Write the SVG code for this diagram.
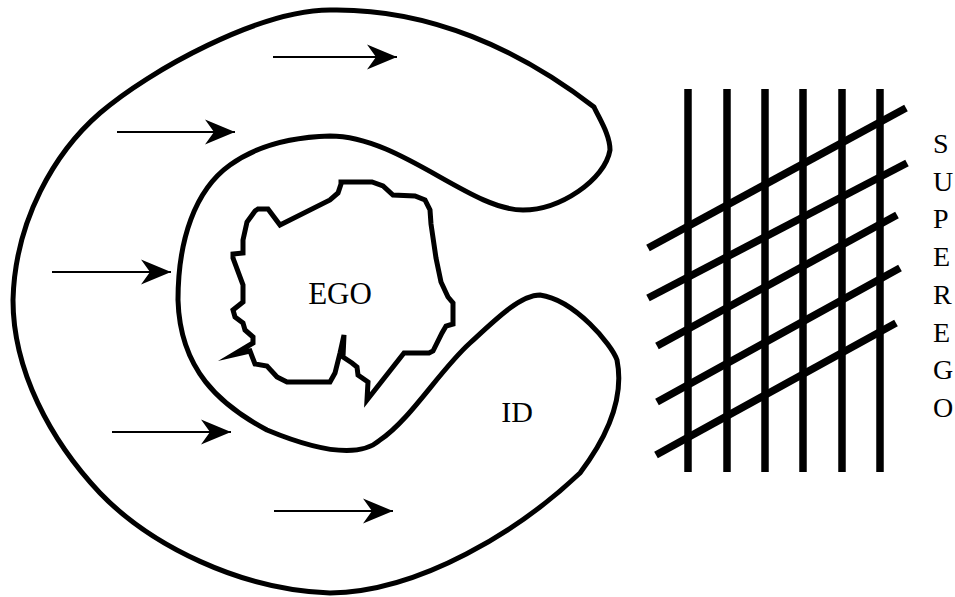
<svg xmlns="http://www.w3.org/2000/svg" width="955" height="597" viewBox="0 0 955 597">
<style>
.bold{fill:none;stroke:#000;stroke-width:5;stroke-linejoin:miter;stroke-miterlimit:10}
.grid{stroke:#000;stroke-width:7.5;fill:none}
.arrow{stroke:#000;stroke-width:2;fill:none}
.lbl{font-family:"Liberation Serif","Times New Roman",serif;fill:#000}
</style>
<defs>
<marker id="ah" markerUnits="userSpaceOnUse" viewBox="-31 -13 32 26" markerWidth="32" markerHeight="26" refX="0" refY="0" orient="auto">
<path d="M0,0 L-30,-12.5 L-21,0 L-30,12.5 Z" fill="#000"/>
</marker>
</defs>
<rect width="955" height="597" fill="#fff"/>
<g id="id-region">
<path class="bold" d="M594,107 C520,50 430,8 330,10 C260,10 150,70 100,113 C55,152 15,220 13,300 C13,370 50,440 100,493 C150,545 240,590 330,593 C420,592 520,530 580,473 C605,440 625,400 617,360 C612,345 575,300 540,295 C520,295 495,320 470,343 C440,370 410,420 380,440 C360,458 320,452 267,430 C220,405 180,370 178,300 C178,240 195,190 230,165 C255,147 290,137 330,136 C400,136 470,210 523,210 C560,210 605,180 610,150 C610,135 600,120 594,107 Z"/>
<text class="lbl" x="517" y="422" font-size="30" text-anchor="middle">ID</text>
</g>
<g id="ego">
<path class="bold" d="M280,225 L330,200 L338,193 L341,184 L341,182 L372,182 L383,186 L393,195 L415,196 L425,200 L430,210 L431,224 L436,258 L441,282 L448,297 L453,303 L453,324 L446,326 L442,333 L433,351 L429,353 L404,353 L367,400 L368,382 L358,375 L357,367 L352,363 L343,357 L344,335 L340,353 L335,373 L330,382 L287,382 L277,377 L267,366 L255,364 L250,351 L233,355 L253,343 L253,337 L245,330 L243,323 L235,317 L233,310 L243,302 L243,285 L233,258 L233,254 L243,253 L243,240 L247,222 L255,211 L258,209 L268,209 Z"/>
<text class="lbl" x="340" y="304" font-size="31" text-anchor="middle">EGO</text>
</g>
<g id="superego">
<g class="grid">
<line x1="688" y1="89" x2="688" y2="472"/>
<line x1="727" y1="89" x2="727" y2="472"/>
<line x1="765" y1="89" x2="765" y2="472"/>
<line x1="803" y1="89" x2="803" y2="472"/>
<line x1="842" y1="89" x2="842" y2="472"/>
<line x1="880" y1="89" x2="880" y2="472"/>
<line x1="648" y1="248" x2="906" y2="108"/>
<line x1="648" y1="298" x2="907" y2="163"/>
<line x1="657" y1="346" x2="897" y2="215"/>
<line x1="657" y1="402" x2="900" y2="268"/>
<line x1="656" y1="455" x2="896" y2="323"/>
</g>
<g class="lbl" font-size="28">
<text x="933" y="153">S</text>
<text x="933" y="191">U</text>
<text x="933" y="228">P</text>
<text x="933" y="266">E</text>
<text x="933" y="304">R</text>
<text x="933" y="342">E</text>
<text x="933" y="379">G</text>
<text x="933" y="417">O</text>
</g>
</g>
<g id="connectors">
<line class="arrow" x1="273" y1="57" x2="397" y2="57" marker-end="url(#ah)"/>
<line class="arrow" x1="117" y1="132" x2="235" y2="132" marker-end="url(#ah)"/>
<line class="arrow" x1="52" y1="272" x2="171" y2="272" marker-end="url(#ah)"/>
<line class="arrow" x1="112" y1="432" x2="231" y2="432" marker-end="url(#ah)"/>
<line class="arrow" x1="274" y1="511" x2="393" y2="511" marker-end="url(#ah)"/>
</g>
</svg>
